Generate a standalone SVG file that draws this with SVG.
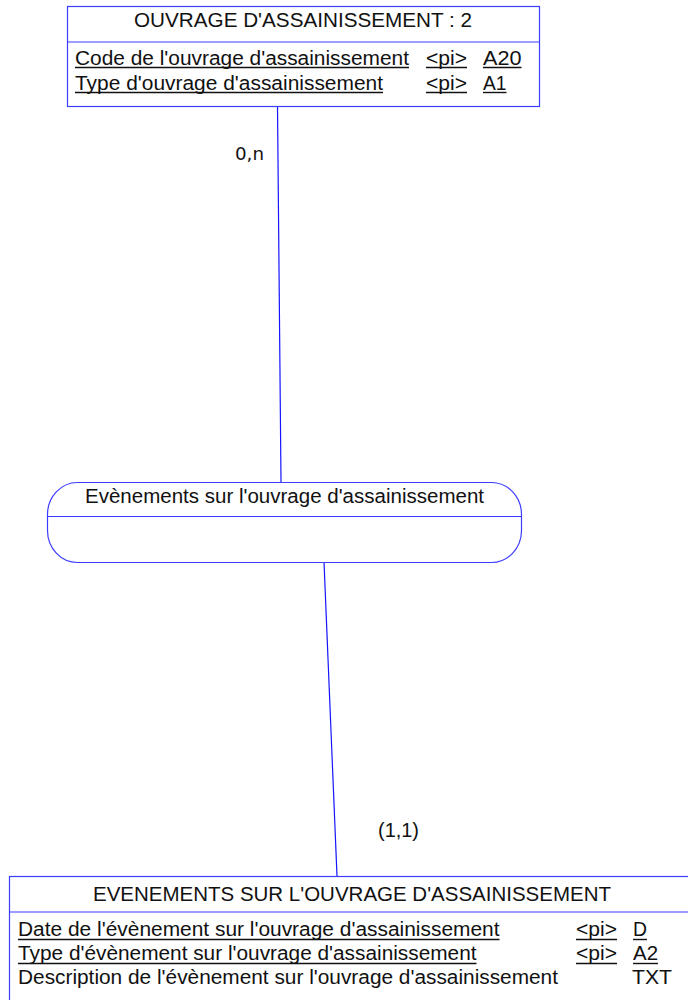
<svg xmlns="http://www.w3.org/2000/svg" width="688" height="1000" viewBox="0 0 688 1000">
<style>
.box{fill:#fff;stroke:#3c3cff;stroke-width:1.2}
.div{stroke:#3c3cff;stroke-width:1.2}
.conn{stroke:#1515ff;stroke-width:1.2;fill:none}
.t{font-family:"Liberation Sans",Arial,sans-serif;font-size:20px;fill:#111}
.u{stroke:#111;stroke-width:1.4}
.card{font-family:"DejaVu Sans",sans-serif;font-size:17px;fill:#111}
</style>
<rect width="688" height="1000" fill="#fff"/>
<g id="connectors">
<line class="conn" x1="277.5" y1="106.5" x2="281" y2="482"/>
<line class="conn" x1="324" y1="562" x2="337" y2="876"/>
<text class="card" x="235" y="159.5" textLength="29" lengthAdjust="spacingAndGlyphs">0,n</text>
<text class="t" x="378" y="836.5" textLength="41" lengthAdjust="spacingAndGlyphs">(1,1)</text>
</g>
<g id="entity-ouvrage">
<rect class="box" x="67.5" y="6.5" width="472" height="100"/>
<line class="div" x1="67.5" y1="42" x2="539.5" y2="42"/>
<text class="t" x="134" y="27" textLength="338" lengthAdjust="spacingAndGlyphs">OUVRAGE D'ASSAINISSEMENT : 2</text>
<text class="t" x="75" y="65" textLength="334" lengthAdjust="spacingAndGlyphs">Code de l'ouvrage d'assainissement</text>
<line class="u" x1="75" y1="67.5" x2="409" y2="67.5"/>
<text class="t" x="426" y="65" textLength="41" lengthAdjust="spacingAndGlyphs">&lt;pi&gt;</text>
<line class="u" x1="426" y1="67.5" x2="467" y2="67.5"/>
<text class="t" x="483" y="65" textLength="38.5" lengthAdjust="spacingAndGlyphs">A20</text>
<line class="u" x1="483" y1="67.5" x2="521.5" y2="67.5"/>
<text class="t" x="75" y="90" textLength="308" lengthAdjust="spacingAndGlyphs">Type d'ouvrage d'assainissement</text>
<line class="u" x1="75" y1="92.5" x2="383" y2="92.5"/>
<text class="t" x="426" y="90" textLength="41" lengthAdjust="spacingAndGlyphs">&lt;pi&gt;</text>
<line class="u" x1="426" y1="92.5" x2="467" y2="92.5"/>
<text class="t" x="483" y="90" textLength="23.5" lengthAdjust="spacingAndGlyphs">A1</text>
<line class="u" x1="483" y1="92.5" x2="506.5" y2="92.5"/>
</g>
<g id="association-evenements">
<rect class="box" x="47.5" y="482.5" width="474" height="80" rx="30" ry="32"/>
<line class="div" x1="47.5" y1="516.5" x2="521.5" y2="516.5"/>
<text class="t" x="85" y="503" textLength="399" lengthAdjust="spacingAndGlyphs">Evènements sur l'ouvrage d'assainissement</text>
</g>
<g id="entity-evenements">
<rect class="box" x="9.5" y="876.5" width="700" height="140"/>
<line class="div" x1="9.5" y1="912" x2="688" y2="912" stroke="#6a6aff"/>
<text class="t" x="93" y="900.5" textLength="518" lengthAdjust="spacingAndGlyphs">EVENEMENTS SUR L'OUVRAGE D'ASSAINISSEMENT</text>
<text class="t" x="18" y="936" textLength="481.5" lengthAdjust="spacingAndGlyphs">Date de l'évènement sur l'ouvrage d'assainissement</text>
<line class="u" x1="18" y1="939.5" x2="499.5" y2="939.5"/>
<text class="t" x="576" y="936" textLength="41" lengthAdjust="spacingAndGlyphs">&lt;pi&gt;</text>
<line class="u" x1="576" y1="939.5" x2="617" y2="939.5"/>
<text class="t" x="633" y="936" textLength="14" lengthAdjust="spacingAndGlyphs">D</text>
<line class="u" x1="633" y1="939.5" x2="647" y2="939.5"/>
<text class="t" x="18" y="960" textLength="458.5" lengthAdjust="spacingAndGlyphs">Type d'évènement sur l'ouvrage d'assainissement</text>
<line class="u" x1="18" y1="963.5" x2="476.5" y2="963.5"/>
<text class="t" x="576" y="960" textLength="41" lengthAdjust="spacingAndGlyphs">&lt;pi&gt;</text>
<line class="u" x1="576" y1="963.5" x2="617" y2="963.5"/>
<text class="t" x="633" y="960" textLength="25" lengthAdjust="spacingAndGlyphs">A2</text>
<line class="u" x1="633" y1="963.5" x2="658" y2="963.5"/>
<text class="t" x="18" y="983.5" textLength="540" lengthAdjust="spacingAndGlyphs">Description de l'évènement sur l'ouvrage d'assainissement</text>
<text class="t" x="632" y="983.5" textLength="40" lengthAdjust="spacingAndGlyphs">TXT</text>
</g>
</svg>
